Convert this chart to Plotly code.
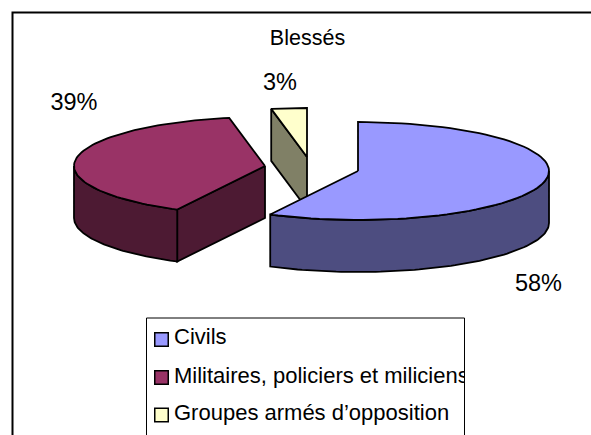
import numpy as np
import plotly.graph_objects as go

categories = ["Civils", "Militaires, policiers et miliciens", "Groupes armés d’opposition"]
values = [57.6, 39.4, 3.0]
title_text = "Blessés"
value_labels = ["58%", "39%", "3%"]

top_colors = ["#9999FF", "#993366", "#FFFFCC"]
side_colors = ["#4D4D80", "#4D1A33", "#808066"]

# Page layout, in pixels of the 591x435 canvas
W, H = 591, 435
RX, RY, DEPTH = 191, 49, 52
CENTERS = [(358, 171), (265, 166), (307, 157)]
LABEL_POS = [(538.5, 285), (74, 104), (280, 84)]
LEGEND_Y = [338.5, 377, 414.5]
LEGEND_BOX = (146.5, 464.5, 318)
LINE = dict(color="black", width=1.8)

fractions = np.array(values) / sum(values)
starts = 2 * np.pi * np.concatenate([[0], np.cumsum(fractions)[:-1]])
ends = starts + 2 * np.pi * fractions


def rim(cx, cy, t0, t1, drop=0, n=80):
    t = np.linspace(t0, t1, n)
    return cx + RX * np.sin(t), cy - RY * np.cos(t) + drop


def poly(x, y, color, line=LINE):
    fig.add_trace(go.Scatter(x=list(x) + [x[0]], y=list(y) + [y[0]], mode="lines",
                             fill="toself", fillcolor=color, line=line,
                             hoverinfo="skip", showlegend=False))


fig = go.Figure()

# Outer frame: left and top edges only, running off the page
fig.add_trace(go.Scatter(x=[12.5, 12.5, W], y=[H, 12.5, 12.5], mode="lines",
                         line=dict(color="black", width=2),
                         hoverinfo="skip", showlegend=False))


def straight_wall(i, t):
    cx, cy = CENTERS[i]
    ex, ey = rim(cx, cy, t, t, n=1)
    ex, ey = float(ex[0]), float(ey[0])
    poly([cx, ex, ex, cx], [cy, ey, ey + DEPTH, cy + DEPTH], side_colors[i])


def arc_wall(i, t0, t1):
    cx, cy = CENTERS[i]
    xa, ya = rim(cx, cy, t0, t1)
    xb, yb = rim(cx, cy, t1, t0, DEPTH)
    poly(np.r_[xa, xb], np.r_[ya, yb], side_colors[i])


def top(i):
    cx, cy = CENTERS[i]
    xa, ya = rim(cx, cy, starts[i], ends[i])
    poly(np.r_[cx, xa], np.r_[cy, ya], top_colors[i])


# Back to front: opposition slice, militaires, civils
straight_wall(2, starts[2])
top(2)

straight_wall(1, starts[1])
arc_wall(1, starts[1], 3 * np.pi / 2)
top(1)

arc_wall(0, np.pi / 2, ends[0])
top(0)

font = dict(family="Liberation Sans, Arial", color="black")
fig.add_trace(go.Scatter(x=[p[0] for p in LABEL_POS], y=[p[1] for p in LABEL_POS],
                         mode="text", text=value_labels, textposition="middle center",
                         textfont=dict(size=23.5, **font), hoverinfo="skip", showlegend=False))
fig.add_trace(go.Scatter(x=[307.5], y=[40], mode="text", text=[title_text],
                         textposition="middle center", textfont=dict(size=21.5, **font),
                         hoverinfo="skip", showlegend=False))

# Legend box (open at the bottom)
lx0, lx1, ly0 = LEGEND_BOX
fig.add_trace(go.Scatter(x=[lx0, lx0, lx1, lx1, lx0], y=[H + 5, ly0, ly0, H + 5, H + 5], mode="lines",
                         fill="toself", fillcolor="white", line=dict(color="black", width=1),
                         hoverinfo="skip", showlegend=False))
fig.add_trace(go.Scatter(x=[161.5] * 3, y=[339.5, 377.5, 415], mode="markers",
                         marker=dict(symbol="square", size=13.5, color=top_colors,
                                     line=dict(color="black", width=1.5)),
                         hoverinfo="skip", showlegend=False))
# Legend text sits on a second pair of axes whose plot area ends at the box edge,
# so the long label is clipped there
fig.add_trace(go.Scatter(x=[174] * 3, y=LEGEND_Y, mode="text", text=categories,
                         textposition="middle right", textfont=dict(size=22, **font),
                         cliponaxis=True, xaxis="x2", yaxis="y2",
                         hoverinfo="skip", showlegend=False))

hidden = dict(visible=False, fixedrange=True)
fig.update_layout(
    width=W, height=H, margin=dict(l=0, r=0, t=0, b=0),
    paper_bgcolor="white", plot_bgcolor="rgba(0,0,0,0)", showlegend=False,
    xaxis=dict(range=[0, W], domain=[0, 1], **hidden),
    yaxis=dict(range=[H, 0], domain=[0, 1], **hidden),
    xaxis2=dict(range=[0, lx1], domain=[0, lx1 / W], anchor="y2", **hidden),
    yaxis2=dict(range=[H, 0], domain=[0, 1], anchor="x2", **hidden),
)
fig.write_html("out.html", post_script="document.body.style.margin='0';document.body.style.overflow='hidden';",
               config=dict(displayModeBar=False))
